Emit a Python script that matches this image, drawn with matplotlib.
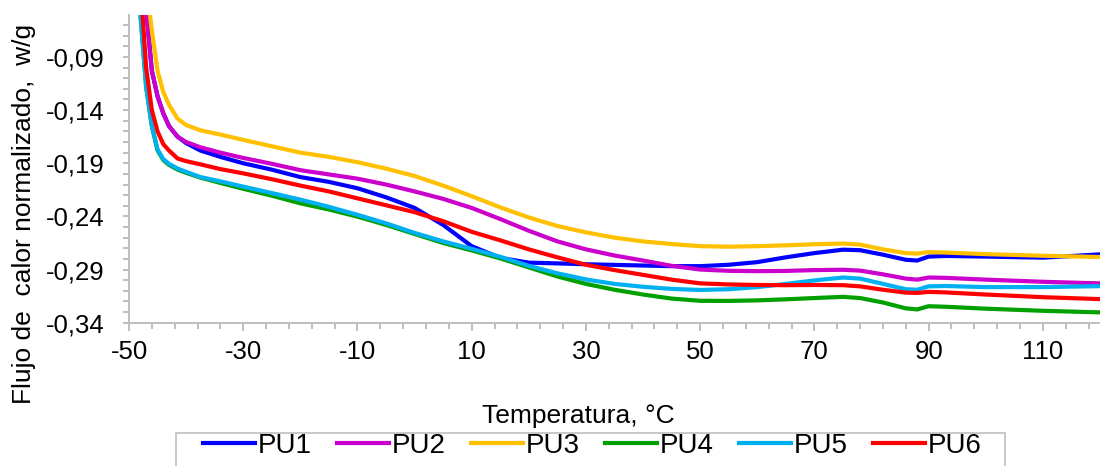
import matplotlib.pyplot as plt
import numpy as np
from matplotlib.ticker import FixedLocator, FuncFormatter
from matplotlib.patches import Rectangle

plt.rcParams['font.family'] = ['Liberation Sans', 'DejaVu Sans']

# temperatures (°C) at which the curves were read
temp = [-48, -47, -46, -45, -44, -43, -41.5, -40, -37.5, -34, -30, -25, -20, -15, -10, -5,
        0, 5, 10, 15, 20, 25, 30, 35, 40, 45, 50, 55, 60, 65, 70, 75, 78, 82, 86, 88, 90,
        93, 100, 110, 120]

pu1 = [0.03, -0.045, -0.103, -0.127, -0.143, -0.155, -0.165, -0.171, -0.178, -0.184, -0.190,
       -0.196, -0.203, -0.2075, -0.2135, -0.222, -0.232, -0.248, -0.268, -0.279, -0.2835,
       -0.2842, -0.285, -0.2856, -0.2862, -0.2868, -0.2868, -0.2855, -0.283, -0.2785, -0.2745,
       -0.2713, -0.2718, -0.276, -0.2808, -0.2815, -0.2778, -0.2772, -0.2778, -0.2788, -0.2757]
pu2 = [0.03, -0.045, -0.103, -0.127, -0.143, -0.155, -0.165, -0.170, -0.175, -0.180, -0.185,
       -0.1905, -0.1965, -0.2005, -0.2045, -0.210, -0.2165, -0.2235, -0.232, -0.2425, -0.2535,
       -0.2635, -0.271, -0.2768, -0.2815, -0.2865, -0.290, -0.2912, -0.2915, -0.2913, -0.2905,
       -0.2902, -0.291, -0.2945, -0.2985, -0.2995, -0.2975, -0.2978, -0.2995, -0.3015, -0.303]
pu3 = [0.02, -0.02, -0.065, -0.103, -0.123, -0.135, -0.148, -0.154, -0.159, -0.163, -0.168,
       -0.174, -0.180, -0.184, -0.189, -0.195, -0.202, -0.211, -0.221, -0.2315, -0.241,
       -0.249, -0.255, -0.260, -0.2635, -0.266, -0.268, -0.2685, -0.268, -0.2672, -0.2662,
       -0.2655, -0.2665, -0.271, -0.2745, -0.275, -0.2735, -0.274, -0.2755, -0.277, -0.2782]
pu4 = [-0.05, -0.118, -0.155, -0.178, -0.187, -0.1915, -0.196, -0.199, -0.2035, -0.2085, -0.214,
       -0.2205, -0.2277, -0.2335, -0.2402, -0.248, -0.2565, -0.265, -0.272, -0.2795, -0.288,
       -0.2965, -0.3035, -0.309, -0.3135, -0.3173, -0.3194, -0.3195, -0.319, -0.318, -0.3168,
       -0.3157, -0.3168, -0.321, -0.3265, -0.3275, -0.3245, -0.325, -0.3268, -0.3288, -0.3303]
pu5 = [-0.05, -0.118, -0.155, -0.177, -0.186, -0.1905, -0.195, -0.198, -0.203, -0.207, -0.212,
       -0.218, -0.2242, -0.231, -0.2385, -0.2465, -0.2555, -0.2635, -0.2705, -0.278, -0.2865,
       -0.2935, -0.2993, -0.3035, -0.3062, -0.3082, -0.3092, -0.3085, -0.3065, -0.3035, -0.3002,
       -0.2975, -0.2985, -0.3035, -0.3085, -0.309, -0.3058, -0.3055, -0.3065, -0.3065, -0.3056]
pu6 = [-0.02, -0.100, -0.140, -0.160, -0.172, -0.178, -0.1855, -0.188, -0.191, -0.1955, -0.1995,
       -0.205, -0.211, -0.2165, -0.223, -0.2295, -0.236, -0.2445, -0.2545, -0.2625, -0.271,
       -0.2785, -0.2855, -0.2905, -0.295, -0.2995, -0.303, -0.304, -0.3045, -0.3047, -0.3045,
       -0.3047, -0.3058, -0.309, -0.3117, -0.312, -0.311, -0.3115, -0.3135, -0.316, -0.3178]

names = ['PU1', 'PU2', 'PU3', 'PU4', 'PU5', 'PU6']
series = [pu1, pu2, pu3, pu4, pu5, pu6]
colores = ['#0000FF', '#CC00CC', '#FFC000', '#00A000', '#00B0F0', '#FF0000']

fig = plt.figure(figsize=(11, 4.66), dpi=100)
ax = fig.add_axes([129 / 1100, 1 - 322.7 / 466, 1 - 129 / 1100, (322.7 - 15) / 466])

for nombre, vals, c in zip(names, series, colores):
    ax.plot(temp, vals, color=c, lw=3.0, label=nombre, solid_joinstyle='round')

ax.set_xlim(-50, 120)
ax.set_ylim(-0.34, -0.0505)

gris = '#BFBFBF'
for s in ['top', 'right']:
    ax.spines[s].set_visible(False)
for s in ['left', 'bottom']:
    ax.spines[s].set_color(gris)
    ax.spines[s].set_linewidth(1.4)

ax.xaxis.set_major_locator(FixedLocator(np.arange(-50, 121, 20)))
ax.xaxis.set_minor_locator(FixedLocator(np.arange(-50, 121, 4)))
ax.yaxis.set_major_locator(FixedLocator(np.arange(-0.34, -0.085, 0.05)))
ax.yaxis.set_minor_locator(FixedLocator(np.arange(-0.34, -0.049, 0.01)))
ax.yaxis.set_major_formatter(FuncFormatter(lambda v, p: f'{v:.2f}'.replace('.', ',')))
ax.xaxis.set_major_formatter(FuncFormatter(lambda v, p: f'{v:.0f}'))

ax.tick_params(which='both', direction='out', color=gris, width=1.4, labelsize=18.5)
ax.tick_params(axis='x', which='major', length=5.5, pad=7)
ax.tick_params(axis='x', which='minor', length=4)
ax.tick_params(axis='y', which='both', length=4.5, pad=13)

fig.text(578 / 1100, 1 - 416 / 466, 'Temperatura, °C', ha='center', va='center', fontsize=19)
fig.text(24 / 1100, 1 - 214 / 466, 'Flujo de  calor normalizado,  w/g', ha='center',
         va='center', rotation=90, fontsize=19)

fig.legend(loc='upper left', bbox_to_anchor=(203 / 1100, 1 - 433 / 466), ncol=6,
           frameon=False, fontsize=20, handlelength=1.87, handletextpad=0.11,
           columnspacing=0.9, borderpad=0, borderaxespad=0)
fig.patches.append(Rectangle((176 / 1100, -0.05), (1005 - 176) / 1100, 0.05 + 1 - 433 / 466,
                             transform=fig.transFigure, fill=False, edgecolor=gris, lw=1.2))

plt.savefig('out.png', dpi=100)
